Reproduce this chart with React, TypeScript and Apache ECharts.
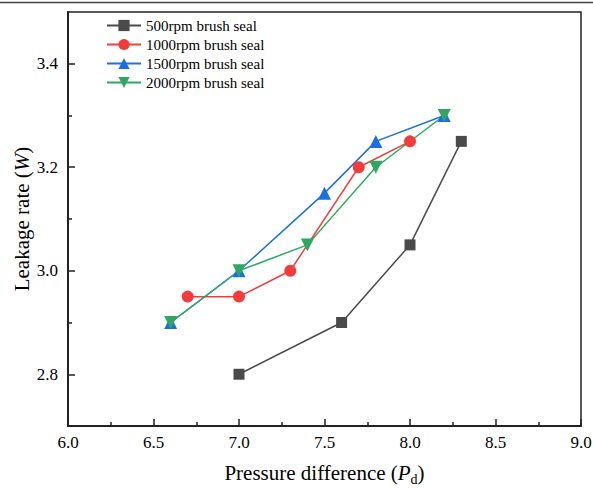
import React, { useEffect, useRef } from "react";
import * as echarts from "echarts";

const seriesNames = ["500rpm brush seal", "1000rpm brush seal", "1500rpm brush seal", "2000rpm brush seal"];
const x500 = [7.0, 7.6, 8.0, 8.3];
const y500 = [2.8, 2.9, 3.05, 3.25];
const x1000 = [6.7, 7.0, 7.3, 7.7, 8.0];
const y1000 = [2.95, 2.95, 3.0, 3.2, 3.25];
const x1500 = [6.6, 7.0, 7.5, 7.8, 8.2];
const y1500 = [2.9, 3.0, 3.15, 3.25, 3.3];
const x2000 = [6.6, 7.0, 7.4, 7.8, 8.2];
const y2000 = [2.9, 3.0, 3.05, 3.2, 3.3];
const yMajor = [2.8, 3.0, 3.2, 3.4];
const yMinor = [2.9, 3.1, 3.3];

const colors = ["#4a4a4a", "#f23c3c", "#1c6fe0", "#2ea860"];
const symbols = ["rect", "circle", "triangle", "path://M0,0 L10,0 L5,9 Z"];
const symbolSizes = [11, 12, 13, 13];

const zip = (xs: number[], ys: number[]) => xs.map((v, i) => [v, ys[i]]);

export default function App() {
  const ref = useRef<HTMLDivElement>(null);
  useEffect(() => {
    if (!ref.current) return;
    const chart = echarts.init(ref.current, null, { renderer: "svg" });
    const font = "'Liberation Serif', 'Times New Roman', serif";
    const data = [zip(x500, y500), zip(x1000, y1000), zip(x1500, y1500), zip(x2000, y2000)];
    chart.setOption({
      animation: false,
      textStyle: { fontFamily: font },
      grid: {
        left: 68,
        right: 12,
        top: 12,
        bottom: 62,
        show: true,
        borderColor: "#222",
        borderWidth: 1.5,
        outerBoundsMode: "none",
        containLabel: false,
      },
      graphic: [
        {
          type: "line",
          shape: { x1: 0, y1: 2.5, x2: 593, y2: 2.5 },
          style: { stroke: "#444", lineWidth: 1.5 },
        },
      ],
      legend: {
        orient: "vertical",
        left: 101,
        top: 13,
        itemWidth: 34,
        itemHeight: 14,
        itemGap: 4,
        textStyle: { fontFamily: font, fontSize: 15, color: "#000" },
        data: seriesNames,
      },
      xAxis: {
        type: "value",
        min: 6,
        max: 9,
        interval: 0.5,
        name: "{a|Pressure difference (}{i|P}{s|d}{a|)}",
        nameLocation: "middle",
        nameGap: 34,
        nameTextStyle: {
          rich: {
            a: { fontFamily: font, fontSize: 21, color: "#000", lineHeight: 26 },
            i: { fontFamily: font, fontSize: 21, color: "#000", fontStyle: "italic", lineHeight: 26 },
            s: { fontFamily: font, fontSize: 14, color: "#000", lineHeight: 26, verticalAlign: "bottom", padding: [10, 0, 0, 0] },
          },
        },
        axisLine: { lineStyle: { color: "#222", width: 2 } },
        axisTick: { inside: true, length: 7, lineStyle: { color: "#222", width: 1.5 } },
        minorTick: { show: true, splitNumber: 2, length: 4, lineStyle: { color: "#222", width: 1.5 } },
        axisLabel: {
          fontFamily: font,
          fontSize: 17,
          color: "#000",
          margin: 8,
          formatter: (v: number) => v.toFixed(1),
        },
        splitLine: { show: false },
      },
      yAxis: [
        {
          type: "value",
          min: 2.7,
          max: 3.5,
          name: "{a|Leakage rate (}{i|W}{a|)}",
          nameLocation: "middle",
          nameGap: 36,
          nameMoveOverlap: false,
          nameTextStyle: {
            rich: {
              a: { fontFamily: font, fontSize: 21, color: "#000" },
              i: { fontFamily: font, fontSize: 21, color: "#000", fontStyle: "italic" },
            },
          },
          axisLine: { show: true, lineStyle: { color: "#222", width: 2 } },
          axisTick: { show: true, inside: true, length: 7, customValues: yMajor, lineStyle: { color: "#222", width: 1.5 } },
          axisLabel: {
            fontFamily: font,
            fontSize: 17,
            color: "#000",
            margin: 10,
            customValues: yMajor,
            formatter: (v: number) => v.toFixed(1),
          },
          splitLine: { show: false },
        },
        {
          type: "value",
          min: 2.7,
          max: 3.5,
          position: "left",
          axisLine: { show: false },
          axisTick: { show: true, inside: true, length: 4, customValues: yMinor, lineStyle: { color: "#222", width: 1.5 } },
          axisLabel: { show: false },
          splitLine: { show: false },
        },
      ],
      series: seriesNames.map((name, i) => ({
        name,
        type: "line",
        data: data[i],
        symbol: symbols[i],
        symbolSize: symbolSizes[i],
        itemStyle: { color: colors[i] },
        lineStyle: { color: colors[i], width: 1.5 },
      })),
    });
    return () => chart.dispose();
  }, []);
  return <div ref={ref} style={{ position: "absolute", left: 0, top: 0, width: 593, height: 488 }} />;
}
